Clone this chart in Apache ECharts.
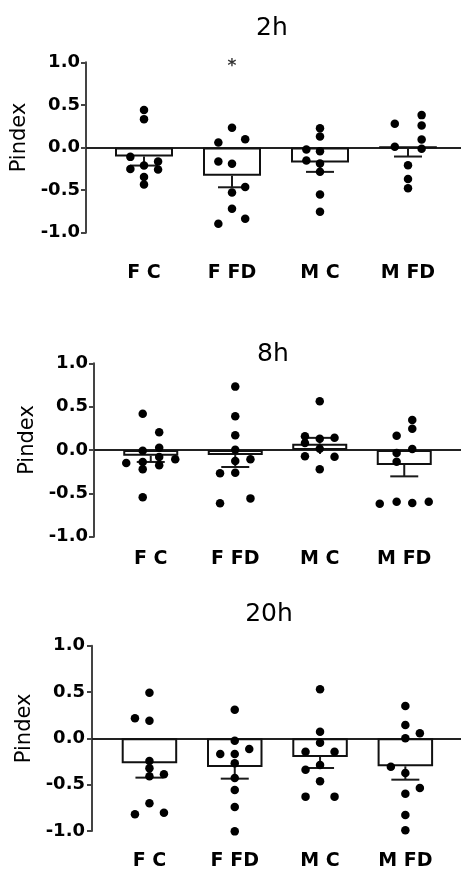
<!DOCTYPE html>
<html>
<head>
<meta charset="utf-8">
<script src="https://cdn.jsdelivr.net/npm/echarts@6/dist/echarts.min.js"></script>
<style>
  html, body { margin: 0; padding: 0; background: #fff; }
  #chart { width: 461px; height: 870px; }
</style>
</head>
<body>
<div id="chart"></div>
<script>
// groups and y ticks
var groups = ['F C', 'F FD', 'M C', 'M FD'];
var yMin = -1, yMax = 1, yStep = 0.5;

// 2h
var mean2h = [-0.106, -0.333, -0.176, 0.004];
var errEnd2h = [-0.212, -0.467, -0.286, -0.106];
var dots2h = [
    [0.439, 0.333, -0.110, -0.165, -0.251, -0.212, -0.259, -0.345, -0.435],
    [0.231, 0.059, 0.098, -0.165, -0.192, -0.463, -0.529, -0.718, -0.835, -0.894],
    [0.227, 0.129, -0.024, -0.043, -0.153, -0.188, -0.286, -0.553, -0.753],
    [0.278, 0.380, 0.259, 0.094, 0.008, -0.016, -0.208, -0.369, -0.478]
];
var jitter2h = [
    [0, 0, -0.155, 0.16, -0.155, 0, 0.16, 0, 0],
    [0, -0.155, 0.15, -0.155, 0, 0.15, 0, 0, 0.15, -0.155],
    [0, 0, -0.155, 0, -0.155, 0, 0, 0, 0],
    [-0.15, 0.155, 0.155, 0.155, -0.15, 0.155, 0, 0, 0]
];
var star2h = ['', '*', '', ''];

// 8h
var mean8h = [-0.065, -0.058, 0.073, -0.173];
var errEnd8h = [-0.138, -0.196, 0.140, -0.304];
var dots8h = [
    [0.419, 0.204, -0.008, 0.027, -0.081, -0.108, -0.150, -0.138, -0.223, -0.177, -0.546],
    [0.731, 0.388, 0.169, 0.004, -0.127, -0.108, -0.269, -0.262, -0.558, -0.615],
    [0.562, 0.158, 0.131, 0.142, 0.081, 0.015, -0.073, -0.077, -0.223],
    [0.346, 0.246, 0.165, 0.012, -0.035, -0.135, -0.619, -0.596, -0.612, -0.596]
];
var jitter8h = [
    [-0.095, 0.1, -0.095, 0.1, 0.1, 0.29, -0.29, -0.095, -0.095, 0.1, -0.095],
    [0, 0, 0, 0, 0, 0.18, -0.18, 0, 0.18, -0.18],
    [0, -0.175, 0, 0.175, -0.175, 0, -0.175, 0.175, 0],
    [0.095, 0.095, -0.09, 0.095, -0.09, -0.09, -0.29, -0.09, 0.095, 0.29]
];
var star8h = ['', '', '', ''];

// 20h
var mean20h = [-0.270, -0.309, -0.201, -0.302];
var errEnd20h = [-0.424, -0.435, -0.320, -0.446];
var dots20h = [
    [0.493, 0.216, 0.191, -0.245, -0.324, -0.410, -0.388, -0.701, -0.820, -0.802],
    [0.309, -0.025, -0.169, -0.169, -0.115, -0.270, -0.428, -0.558, -0.741, -1.004],
    [0.529, 0.072, -0.047, -0.144, -0.144, -0.288, -0.338, -0.464, -0.629, -0.629],
    [0.349, 0.144, 0.054, 0.0, -0.306, -0.374, -0.536, -0.597, -0.827, -0.993]
];
var jitter20h = [
    [0, -0.17, 0, 0, 0, 0, 0.17, 0, -0.17, 0.17],
    [0, 0, -0.17, 0, 0.17, 0, 0, 0, 0, 0],
    [0, 0, 0, -0.17, 0.17, 0, -0.17, 0, -0.17, 0.17],
    [0, 0, 0.17, 0, -0.17, 0, 0.17, 0, 0, 0]
];
var star20h = ['', '', '', ''];

var FONT = '"DejaVu Sans", Arial, sans-serif';

var panels = [
    {title: '2h', mean: mean2h, err: errEnd2h, dots: dots2h, jit: jitter2h, star: star2h,
     axisX: 86, top: 62.3, bottom: 232.7, catLeft: 100, catWidth: 352, barWidth: 58,
     labelGap: 31, tickGap: 6, nameGap: 47, titleX: 272, titleTop: 16},
    {title: '8h', mean: mean8h, err: errEnd8h, dots: dots8h, jit: jitter8h, star: star8h,
     axisX: 94, top: 363.3, bottom: 536.7, catLeft: 108.5, catWidth: 338, barWidth: 55,
     labelGap: 12.6, tickGap: 6, nameGap: 54, titleX: 273, titleTop: 342},
    {title: '20h', mean: mean20h, err: errEnd20h, dots: dots20h, jit: jitter20h, star: star20h,
     axisX: 92, top: 645.7, bottom: 831, catLeft: 106.8, catWidth: 341.2, barWidth: 55.5,
     labelGap: 21, tickGap: 7, nameGap: 52, titleX: 269, titleTop: 601.5}
];

var option = {
    animation: false,
    backgroundColor: '#fff',
    title: [], grid: [], xAxis: [], yAxis: [], series: []
};

function errorBar(params, api) {
    var x = api.value(0);
    var a = api.coord([x, api.value(1)]);
    var b = api.coord([x, api.value(2)]);
    var st = {stroke: '#1a1a1a', lineWidth: 2};
    return {
        type: 'group',
        children: [
            {type: 'line', shape: {x1: a[0], y1: a[1], x2: b[0], y2: b[1]}, style: st},
            {type: 'line', shape: {x1: b[0] - 14, y1: b[1], x2: b[0] + 14, y2: b[1]}, style: st}
        ]
    };
}

panels.forEach(function (p) {
    option.title.push({
        text: p.title, left: p.titleX, top: p.titleTop, textAlign: 'center', padding: 0,
        textStyle: {fontFamily: FONT, fontSize: 25, fontWeight: 'normal', color: '#000'}
    });

    var gA = option.grid.length;
    option.grid.push({left: p.axisX, right: 0, top: p.top, height: p.bottom - p.top, outerBoundsMode: 'none'});
    var gB = option.grid.length;
    option.grid.push({left: p.catLeft, width: p.catWidth, top: p.top, height: p.bottom - p.top, outerBoundsMode: 'none'});

    // zero line across the whole panel
    option.xAxis.push({
        gridIndex: gA, type: 'value', min: 0, max: 1,
        axisLine: {show: true, onZero: true, lineStyle: {color: '#222', width: 2}},
        axisTick: {show: false}, axisLabel: {show: false}, splitLine: {show: false}
    });
    var xDot = option.xAxis.length;
    option.xAxis.push({
        gridIndex: gB, type: 'value', min: 0.5, max: 4.5, show: false,
        axisLine: {onZero: false}, splitLine: {show: false}
    });
    var xCat = option.xAxis.length;
    option.xAxis.push({
        gridIndex: gB, type: 'category', data: groups, position: 'bottom',
        axisLine: {show: false, onZero: false}, axisTick: {show: false},
        axisLabel: {margin: p.labelGap, color: '#000', fontFamily: FONT, fontWeight: 'bold', fontSize: 19}
    });
    // small ticks under the zero line
    option.xAxis.push({
        gridIndex: gB, type: 'category', data: groups, position: 'bottom',
        axisLine: {show: false, onZero: true},
        axisTick: {show: true, alignWithLabel: true, length: 4, lineStyle: {color: '#222', width: 2}},
        axisLabel: {show: false}
    });

    option.yAxis.push({
        gridIndex: gA, type: 'value', min: yMin, max: yMax, interval: yStep,
        name: 'Pindex', nameLocation: 'middle', nameGap: p.nameGap,
        nameTextStyle: {fontFamily: FONT, fontSize: 21, color: '#000', padding: [0, 0, 0, 20]},
        axisLine: {show: true, onZero: false, lineStyle: {color: '#444', width: 2}},
        axisTick: {show: true, length: 5, lineStyle: {color: '#444', width: 2}},
        axisLabel: {
            margin: p.tickGap, color: '#000', fontFamily: FONT, fontWeight: 'bold', fontSize: 18,
            formatter: function (v) { return v.toFixed(1); }
        },
        splitLine: {show: false}
    });
    var yB = option.yAxis.length;
    option.yAxis.push({gridIndex: gB, type: 'value', min: yMin, max: yMax, show: false});

    option.series.push({
        type: 'bar', xAxisIndex: xCat, yAxisIndex: yB, data: p.mean, barWidth: p.barWidth,
        itemStyle: {color: '#fff', borderColor: '#111', borderWidth: 2}, z: 2, silent: true
    });
    option.series.push({
        type: 'custom', xAxisIndex: xDot, yAxisIndex: yB, renderItem: errorBar, z: 3, silent: true,
        data: p.mean.map(function (m, i) { return [i + 1, m, p.err[i]]; })
    });
    var pts = [];
    p.dots.forEach(function (vals, i) {
        vals.forEach(function (v, j) { pts.push([i + 1 + p.jit[i][j], v]); });
    });
    option.series.push({
        type: 'scatter', xAxisIndex: xDot, yAxisIndex: yB, data: pts, symbolSize: 8.5,
        itemStyle: {color: '#000', opacity: 1}, z: 4, clip: false, silent: true
    });
    var stars = [];
    p.star.forEach(function (s, i) { if (s) stars.push({value: [i + 1, 0.95], name: s}); });
    if (stars.length) {
        option.series.push({
            type: 'scatter', xAxisIndex: xDot, yAxisIndex: yB, data: stars, symbolSize: 0,
            label: {show: true, position: 'inside', formatter: '{b}', color: '#000',
                    fontFamily: FONT, fontWeight: 'bold', fontSize: 17},
            z: 5, silent: true
        });
    }
});

var chart = echarts.init(document.getElementById('chart'), null, {renderer: 'canvas'});
chart.setOption(option);
</script>
</body>
</html>
